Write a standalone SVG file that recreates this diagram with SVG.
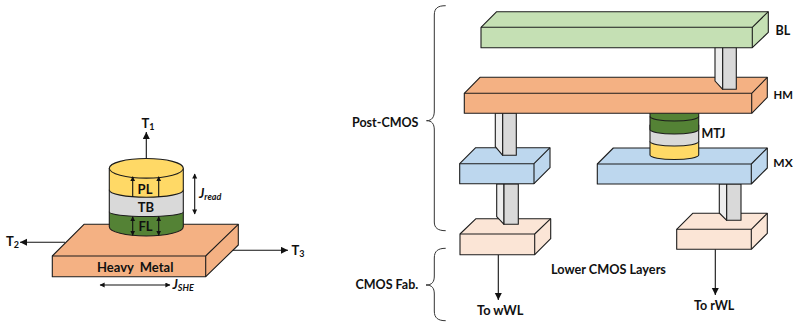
<svg xmlns="http://www.w3.org/2000/svg" width="793" height="323" viewBox="0 0 793 323">
<style>
text{font-family:"Lato","Carlito","Liberation Sans",sans-serif;font-weight:700;fill:#111;font-size:12.500px}
.b{stroke:#1c1c1c;stroke-width:1.1;stroke-linejoin:round}
.hm{fill:#F4B183}.bl{fill:#C5E0B4}.mx{fill:#BDD7EE}.lo{fill:#FBE5D6}
.y{fill:#FFD966}.g{fill:#D9D9D9}.d{fill:#548235}.l{fill:#EDEDED}
.w{stroke:#111;stroke-width:1.1;fill:none}
.br{stroke:#333;stroke-width:1;fill:none}
.i{font-style:italic}
.sb{font-size:9px}
.t{font-size:13px}
</style>
<defs>
<marker id="a" markerWidth="8" markerHeight="8" refX="7" refY="3.5" orient="auto-start-reverse" markerUnits="userSpaceOnUse"><path d="M0 0L7 3.500L0 7z" fill="#111"/></marker>
<marker id="s" markerWidth="6" markerHeight="6" refX="4.600" refY="2.500" orient="auto-start-reverse" markerUnits="userSpaceOnUse"><path d="M0 0L5 2.500L0 5z" fill="#111"/></marker>
</defs>

<g id="connectors">
<path class="w" d="M146.300 158V132" marker-end="url(#a)"/>
<path class="w" d="M65 242.300H20" marker-end="url(#a)"/>
<path class="w" d="M221.700 250.300H288" marker-end="url(#a)"/>
<path class="w" d="M498.300 254.700V300" marker-end="url(#a)"/>
<path class="w" d="M715.300 249.300V295" marker-end="url(#a)"/>
</g>

<g id="heavy-metal">
<path class="hm b" d="M52.300 256L84 224.300H238.300V245L205.700 276.700H52.300Z"/>
<path class="b" fill="none" d="M52.300 256H205.700V276.700M205.700 256L238.300 224.300"/>
<text x="97" y="272" class="t" word-spacing="3">Heavy Metal</text>
</g>

<g id="mtj-stack">
<path class="d b" d="M109.300 212V226.700A37 9.300 0 0 0 183.300 226.700V212Z"/>
<path class="g b" d="M109.300 190V212A37 4.500 0 0 0 183.300 212V190Z"/>
<path class="y b" d="M109.300 168.300V190A37 7.300 0 0 0 183.300 190V168.300Z"/>
<ellipse class="y b" cx="146.300" cy="168.300" rx="37" ry="9.800"/>
<text x="145" y="194" text-anchor="middle" class="t">PL</text>
<text x="146" y="212" text-anchor="middle" class="t">TB</text>
<text x="145.500" y="230.500" text-anchor="middle" class="t">FL</text>
<path class="w" d="M132.700 197V176.700" marker-end="url(#s)"/>
<path class="w" d="M158.700 197V176.700" marker-end="url(#s)"/>
<path class="w" d="M132.700 235.300V216.700" marker-start="url(#s)" marker-end="url(#s)"/>
<path class="w" d="M158.700 235.300V216.700" marker-start="url(#s)" marker-end="url(#s)"/>
</g>

<g id="labels-left">
<path class="w" d="M194.700 214V174" marker-start="url(#s)" marker-end="url(#s)"/>
<path class="w" d="M100 285H170" marker-start="url(#s)" marker-end="url(#s)"/>
<text x="141.500" y="128" class="t">T<tspan dy="2" class="sb">1</tspan></text>
<text x="6" y="246" class="t">T<tspan dy="2" class="sb">2</tspan></text>
<text x="291.500" y="255" class="t">T<tspan dy="2" class="sb">3</tspan></text>
<text class="i t" x="199" y="198">J<tspan dy="2" class="sb">read</tspan></text>
<text class="i t" x="172.500" y="289">J<tspan dy="2" class="sb">SHE</tspan></text>
</g>

<g id="lower-left">
<path class="lo b" d="M460 234L476 218.700H550.700V238.700L534.700 254.700H460Z"/>
<path class="b" fill="none" d="M460 234H534.700V254.700M534.700 234L550.700 218.700"/>
</g>
<g id="lower-right">
<path class="lo b" d="M676.700 229.300L692.700 213.300H767.300V233.300L751.300 249.300H676.700Z"/>
<path class="b" fill="none" d="M676.700 229.300H751.300V249.300M751.300 229.300L767.300 213.300"/>
</g>
<g id="via-mx-lower-left">
<path class="l b" d="M496.700 184V216.700L504 224.300V184Z"/>
<path class="g b" d="M504 184H518.300V224.300H504Z"/>
</g>
<g id="via-mx-lower-right">
<path class="l b" d="M719.300 184V213L726.700 220.300V184Z"/>
<path class="g b" d="M726.700 184H741V220.300H726.700Z"/>
</g>

<g id="mx-left">
<path class="mx b" d="M459.700 163.700L475.700 147.700H550V167.700L534 183.700H459.700Z"/>
<path class="b" fill="none" d="M459.700 163.700H534V183.700M534 163.700L550 147.700"/>
</g>
<g id="mx-right">
<path class="mx b" d="M597.300 164L613.300 148H767.300V168L751.300 184H597.300Z"/>
<path class="b" fill="none" d="M597.300 164H751.300V184M751.300 164L767.300 148"/>
</g>

<g id="mtj">
<path class="y b" d="M650 141.500V155A24.300 4.500 0 0 0 698.700 155V141.500Z"/>
<path class="g b" d="M650 125V141.500A24.300 4.500 0 0 0 698.700 141.500V125Z"/>
<path class="d b" d="M650 108V129.500A24.300 4.500 0 0 0 698.700 129.500V108Z"/>
<path class="b" fill="none" d="M650 116.500A24.300 4.500 0 0 0 698.700 116.500"/>
<text x="701.500" y="137.500">MTJ</text>
</g>

<g id="via-hm-mx">
<path class="l b" d="M495.300 113V146.700L502.700 155.300V113Z"/>
<path class="g b" d="M502.700 113H516.300V155.300H502.700Z"/>
</g>

<g id="hm">
<path class="hm b" d="M464.300 93.300L480 77.300H767.300V97.300L751.700 113.300H464.300Z"/>
<path class="b" fill="none" d="M464.300 93.300H751.700V113.300M751.700 93.300L767.300 77.300"/>
</g>
<g id="via-bl-hm">
<path class="l b" d="M715 47V81L722.700 89.300V47Z"/>
<path class="g b" d="M722.700 47H736.300V89.300H722.700Z"/>
</g>
<g id="bl">
<path class="bl b" d="M481 27.300L496.700 11.700H768.300V32.300L752.300 47.700H481Z"/>
<path class="b" fill="none" d="M481 27.300H752.300V47.700M752.300 27.300L768.300 11.700"/>
</g>

<g id="labels-right">
<text x="775.500" y="35">BL</text>
<text x="773.500" y="99" style="font-size:11.300px">HM</text>
<text x="773.300" y="167" style="font-size:12px">MX</text>
<text x="352" y="127">Post-CMOS</text>
<text x="355.500" y="289">CMOS Fab.</text>
<text x="551" y="273.500" style="font-size:12.700px">Lower CMOS Layers</text>
<text x="477" y="315" style="font-size:12.800px">To wWL</text>
<text x="694" y="310">To rWL</text>
</g>

<g id="braces">
<path class="br" d="M445.700 5.700C438 5.700 434.300 8 434.300 15V111C434.300 117 432 120.700 426.500 120.700C432 120.700 434.300 124 434.300 130V222C434.300 228 438 230.700 445.700 230.700"/>
<path class="br" d="M445.700 248.300C438 248.300 434.300 251 434.300 258V276C434.300 282 432 285 426 285C432 285 434.300 288 434.300 294V311C434.300 318 438 320.700 445.700 320.700"/>
</g>
</svg>
